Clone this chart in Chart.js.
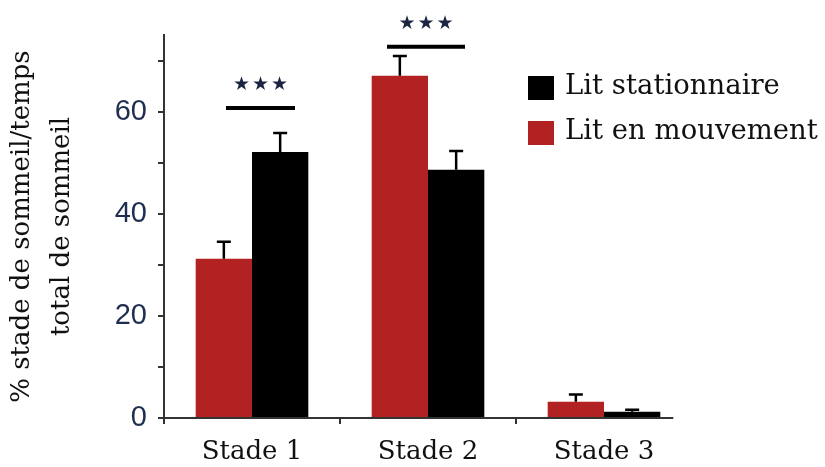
<!DOCTYPE html>
<html>
<head>
<meta charset="utf-8">
<script src="https://cdn.jsdelivr.net/npm/chart.js@4"></script>
<style>
  html, body { margin: 0; padding: 0; background: #fff; }
  #wrap { width: 825px; height: 467px; }
</style>
</head>
<body>
<div id="wrap"><canvas id="sleepChart" width="825" height="467"></canvas></div>
<script>
// data
const categories = ['Stade 1', 'Stade 2', 'Stade 3'];
const litMouvement = [31.2, 67.0, 3.2];
const litMouvementErr = [3.3, 3.9, 1.4];
const litStationnaire = [52.1, 48.6, 1.2];
const litStationnaireErr = [3.7, 3.7, 0.4];
const yLabelTicks = [0, 20, 40, 60];
// significance bars: category index, level (in % units), label
const sigCategory = [0, 1];
const sigLevel = [60.7, 72.7];
const sigLabel = ['★★★', '★★★'];

const RED = '#b22222';
const INK = '#111111';
const AXIS = '#333333';

// error bars (upper half only) drawn from the bar scales
const errorBars = {
    id: 'errorBars',
    afterDatasetsDraw(chart) {
        const ctx = chart.ctx;
        const y = chart.scales.y;
        ctx.save();
        ctx.strokeStyle = '#000';
        ctx.lineWidth = 2.5;
        chart.data.datasets.forEach((ds, i) => {
            const meta = chart.getDatasetMeta(i);
            meta.data.forEach((bar, j) => {
                const top = y.getPixelForValue(ds.data[j] + ds.errors[j]);
                ctx.beginPath();
                ctx.moveTo(bar.x, bar.y);
                ctx.lineTo(bar.x, top);
                ctx.moveTo(bar.x - 7, top);
                ctx.lineTo(bar.x + 7, top);
                ctx.stroke();
            });
        });
        ctx.restore();
    }
};

// x axis baseline stops a little after the last bar, like the original
const xBaseline = {
    id: 'xBaseline',
    afterDatasetsDraw(chart) {
        const ctx = chart.ctx;
        const area = chart.chartArea;
        const meta = chart.getDatasetMeta(chart.data.datasets.length - 1);
        const last = meta.data[meta.data.length - 1];
        ctx.save();
        ctx.strokeStyle = AXIS;
        ctx.lineWidth = 2;
        ctx.beginPath();
        ctx.moveTo(area.left - 3, area.bottom);
        ctx.lineTo(last.x + last.width / 2 + 13, area.bottom);
        ctx.stroke();
        ctx.restore();
    }
};

// *** lines above the pairs
const sigBars = {
    id: 'sigBars',
    afterDraw(chart, args, opts) {
        const ctx = chart.ctx;
        const x = chart.scales.x, y = chart.scales.y;
        ctx.save();
        sigCategory.forEach((c, k) => {
            const cx = x.getPixelForValue(c);
            const ly = y.getPixelForValue(sigLevel[k]);
            const sh = opts.shape[k];
            ctx.strokeStyle = '#000';
            ctx.lineWidth = 4;
            ctx.beginPath();
            ctx.moveTo(cx + sh.from, ly);
            ctx.lineTo(cx + sh.to, ly);
            ctx.stroke();
            ctx.fillStyle = '#1b2440';
            ctx.font = '19px "DejaVu Sans"';
            ctx.textAlign = 'center';
            ctx.textBaseline = 'middle';
            ctx.letterSpacing = '2px';
            ctx.fillText(sigLabel[k], cx + (sh.from + sh.to) / 2 + 1, ly - 23);
        });
        ctx.restore();
    }
};

// legend sitting inside the plot, top right
const boxLegend = {
    id: 'boxLegend',
    afterDraw(chart, args, opts) {
        const ctx = chart.ctx;
        const items = chart.data.datasets.slice().reverse();
        ctx.save();
        ctx.font = '27.5px "DejaVu Serif"';
        ctx.textBaseline = 'alphabetic';
        ctx.textAlign = 'left';
        items.forEach((ds, i) => {
            const top = opts.top + i * opts.gap;
            ctx.fillStyle = ds.backgroundColor;
            ctx.fillRect(opts.left, top, 26, 24);
            ctx.fillStyle = INK;
            ctx.fillText(ds.label, opts.left + 37, top + 18);
        });
        ctx.restore();
    }
};

new Chart(document.getElementById('sleepChart'), {
    type: 'bar',
    data: {
        labels: categories,
        datasets: [{
            label: 'Lit en mouvement',
            data: litMouvement,
            errors: litMouvementErr,
            backgroundColor: RED,
            borderWidth: 0
        }, {
            label: 'Lit stationnaire',
            data: litStationnaire,
            errors: litStationnaireErr,
            backgroundColor: '#000000',
            borderWidth: 0
        }]
    },
    options: {
        responsive: false,
        animation: false,
        categoryPercentage: 0.64,
        barPercentage: 1.0,
        layout: { padding: { top: 35, right: 133, bottom: 0, left: 0 } },
        plugins: {
            legend: { display: false },
            tooltip: { enabled: false },
            sigBars: { shape: [{ from: -26, to: 43 }, { from: -41, to: 37 }] },
            boxLegend: { left: 528, top: 76, gap: 45 }
        },
        scales: {
            x: {
                afterFit: (s) => { s.height = 49; },
                border: { display: false },
                grid: {
                    display: true, drawOnChartArea: false, drawTicks: true, tickLength: 6, lineWidth: 2, offset: true,
                    // no tick mark at the far right end
                    color: (c) => c.tick ? AXIS : 'rgba(0,0,0,0)'
                },
                ticks: { color: INK, padding: 13, font: { family: 'DejaVu Serif', size: 26 } }
            },
            y: {
                min: 0,
                max: 75,
                afterFit: (s) => { s.width = 164; },
                border: { display: true, color: AXIS, width: 2 },
                grid: { display: true, drawOnChartArea: false, drawTicks: true, tickLength: 6, color: AXIS, lineWidth: 2 },
                ticks: {
                    stepSize: 10,
                    includeBounds: false,
                    autoSkip: false,
                    padding: 11,
                    color: '#1f2d50',
                    font: { family: 'Liberation Sans', size: 29 },
                    callback: (v) => yLabelTicks.includes(v) ? v : ''
                },
                title: {
                    display: true,
                    text: ['% stade de sommeil/temps', 'total de sommeil'],
                    color: INK,
                    padding: { top: 2, bottom: 0 },
                    font: { family: 'DejaVu Serif', size: 26, lineHeight: 1.55 }
                }
            }
        }
    },
    plugins: [errorBars, xBaseline, sigBars, boxLegend]
});
</script>
</body>
</html>
